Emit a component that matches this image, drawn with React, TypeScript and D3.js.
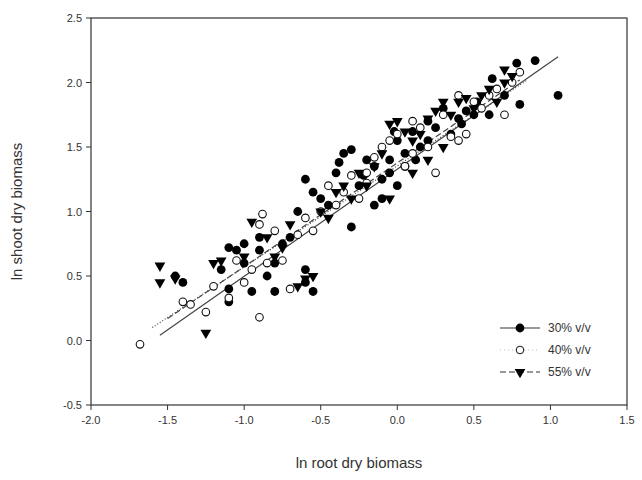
import * as d3 from "d3";

type P = [number, number];

const s30: P[] = [[1.05,1.9],[0.9,2.17],[0.78,2.15],[0.8,1.83],[0.62,2.03],[0.52,1.85],[0.5,1.75],[0.45,1.78],[0.4,1.72],[0.3,1.8],[0.2,1.7],[0.25,1.65],[0.1,1.62],[0.0,1.55],[0.05,1.45],[-0.05,1.3],[-0.1,1.25],[-0.15,1.35],[-0.2,1.4],[-0.25,1.2],[-0.3,0.88],[-0.1,1.1],[-0.35,1.45],[-0.3,1.48],[-0.45,1.05],[-0.5,1.1],[-0.55,1.15],[-0.6,1.25],[-0.65,1.0],[-0.6,0.45],[-0.55,0.38],[-0.7,0.8],[-0.75,0.75],[-0.8,0.6],[-0.85,0.5],[-0.9,0.7],[-1.0,0.75],[-1.05,0.7],[-1.1,0.72],[-1.15,0.55],[-1.1,0.4],[-0.95,0.38],[-0.8,0.38],[-1.0,0.6],[-0.9,0.8],[-0.4,1.3],[0.15,1.5],[0.35,1.6],[0.6,1.75],[0.7,1.9],[-0.15,1.05],[0.0,1.2],[-0.05,1.4],[0.2,1.55],[0.05,1.35],[-1.4,0.45],[-1.45,0.5],[-1.1,0.3],[-0.6,0.55],[-0.22,1.28],[0.12,1.4],[0.42,1.68],[-0.38,1.38],[-0.02,1.62]];
const s40: P[] = [[-1.68,-0.03],[-1.4,0.3],[-1.35,0.28],[-1.25,0.22],[-1.2,0.42],[-1.1,0.33],[-0.9,0.18],[-1.0,0.45],[-0.95,0.55],[-0.85,0.6],[-0.9,0.9],[-0.88,0.98],[-0.8,0.85],[-0.7,0.4],[-0.75,0.62],[-0.65,0.82],[-0.55,0.85],[-0.5,1.0],[-0.45,1.2],[-0.4,1.05],[-0.3,1.28],[-0.35,1.15],[-0.2,1.22],[-0.15,1.42],[-0.1,1.5],[-0.05,1.55],[0.0,1.6],[0.05,1.35],[0.1,1.45],[0.15,1.65],[0.2,1.5],[0.3,1.75],[0.35,1.58],[0.4,1.55],[0.45,1.6],[0.5,1.85],[0.55,1.8],[0.6,1.9],[0.7,1.75],[0.75,2.0],[0.8,2.08],[0.65,1.95],[0.25,1.3],[-0.25,1.1],[-0.6,0.95],[-1.05,0.62],[0.4,1.9],[0.1,1.7],[-0.2,1.3]];
const s55: P[] = [[-1.55,0.58],[-1.55,0.45],[-1.45,0.48],[-1.25,0.06],[-1.2,0.6],[-1.15,0.62],[-1.0,0.65],[-0.95,0.92],[-0.85,0.8],[-0.75,0.72],[-0.7,0.9],[-0.6,0.48],[-0.65,0.42],[-0.55,0.5],[-0.5,1.0],[-0.4,1.15],[-0.35,1.2],[-0.3,1.1],[-0.25,1.3],[-0.2,1.2],[-0.1,1.45],[-0.05,1.68],[0.0,1.7],[0.05,1.62],[0.1,1.55],[0.15,1.6],[0.2,1.72],[0.25,1.78],[0.3,1.85],[0.35,1.75],[0.4,1.85],[0.45,1.88],[0.5,1.8],[0.55,1.9],[0.6,1.95],[0.7,2.0],[0.75,2.05],[0.7,2.1],[-0.15,1.35],[-0.45,0.95],[-0.8,0.65],[0.2,1.4],[0.3,1.5],[-0.05,1.1],[0.65,1.85],[0.1,1.3]];

// regression lines: [x0, y0, x1, y1]
const fit30 = [-1.55, 0.04, 1.05, 2.2];
const fit40 = [-1.6, 0.1, 0.85, 2.02];
const fit55 = [-1.5, 0.17, 0.8, 2.02];

const xTicks = [-2.0, -1.5, -1.0, -0.5, 0.0, 0.5, 1.0, 1.5];
const yTicks = [-0.5, 0.0, 0.5, 1.0, 1.5, 2.0, 2.5];

const legend = ["30% v/v", "40% v/v", "55% v/v"];

const W = 642, H = 480;
const L = 91, R = 627, T = 18, B = 405;
const font = "Liberation Sans, Arial, sans-serif";

export default function App() {
  const x = d3.scaleLinear().domain([-2, 1.5]).range([L, R]);
  const y = d3.scaleLinear().domain([-0.5, 2.5]).range([B, T]);
  const tri = d3.symbol().type(d3.symbolTriangle).size(50)() as string;
  const fits = [
    { f: fit30, dash: undefined },
    { f: fit40, dash: "1,2" },
    { f: fit55, dash: "6,3" },
  ];
  return (
    <svg width={W} height={H} style={{ position: "absolute", left: 0, top: 0, background: "#fff" }} fontFamily={font}>
      <rect x={L} y={T} width={R - L} height={B - T} fill="none" stroke="#333" strokeWidth={1.2} />
      {xTicks.map((t) => (
        <g key={"x" + t}>
          <line x1={x(t)} x2={x(t)} y1={B} y2={B + 5} stroke="#333" />
          <text x={x(t)} y={B + 19} textAnchor="middle" fontSize={11} fill="#333">{t.toFixed(1)}</text>
        </g>
      ))}
      {yTicks.map((t) => (
        <g key={"y" + t}>
          <line x1={L - 5} x2={L} y1={y(t)} y2={y(t)} stroke="#333" />
          <text x={L - 9} y={y(t) + 4} textAnchor="end" fontSize={11} fill="#333">{t.toFixed(1)}</text>
        </g>
      ))}
      <text x={(L + R) / 2} y={468} textAnchor="middle" fontSize={15} fill="#333">ln root dry biomass</text>
      <text transform={`translate(22,${(T + B) / 2}) rotate(-90)`} textAnchor="middle" fontSize={15} fill="#333">ln shoot dry biomass</text>
      {fits.map(({ f, dash }, i) => (
        <line key={i} x1={x(f[0])} y1={y(f[1])} x2={x(f[2])} y2={y(f[3])} stroke="#444" strokeWidth={1.2} strokeDasharray={dash} />
      ))}
      {s30.map((d, i) => <circle key={"a" + i} cx={x(d[0])} cy={y(d[1])} r={4.4} fill="#000" />)}
      {s40.map((d, i) => <circle key={"b" + i} cx={x(d[0])} cy={y(d[1])} r={3.8} fill="#fff" stroke="#111" strokeWidth={1.1} />)}
      {s55.map((d, i) => <path key={"c" + i} d={tri} transform={`translate(${x(d[0])},${y(d[1])}) rotate(180)`} fill="#000" />)}
      {legend.map((lab, i) => {
        const ly = 328 + i * 22;
        return (
          <g key={lab}>
            <line x1={500} x2={540} y1={ly} y2={ly} stroke="#333" strokeWidth={1.2} strokeDasharray={i === 0 ? undefined : i === 1 ? "1,3" : "6,3"} opacity={i === 1 ? 0.3 : 1} />
            {i === 0 && <circle cx={520} cy={ly} r={4.4} fill="#000" />}
            {i === 1 && <circle cx={520} cy={ly} r={3.8} fill="#fff" stroke="#111" />}
            {i === 2 && <path d={tri} transform={`translate(520,${ly}) rotate(180)`} fill="#000" />}
            <text x={548} y={ly + 4} fontSize={12} fill="#333">{lab}</text>
          </g>
        );
      })}
    </svg>
  );
}
